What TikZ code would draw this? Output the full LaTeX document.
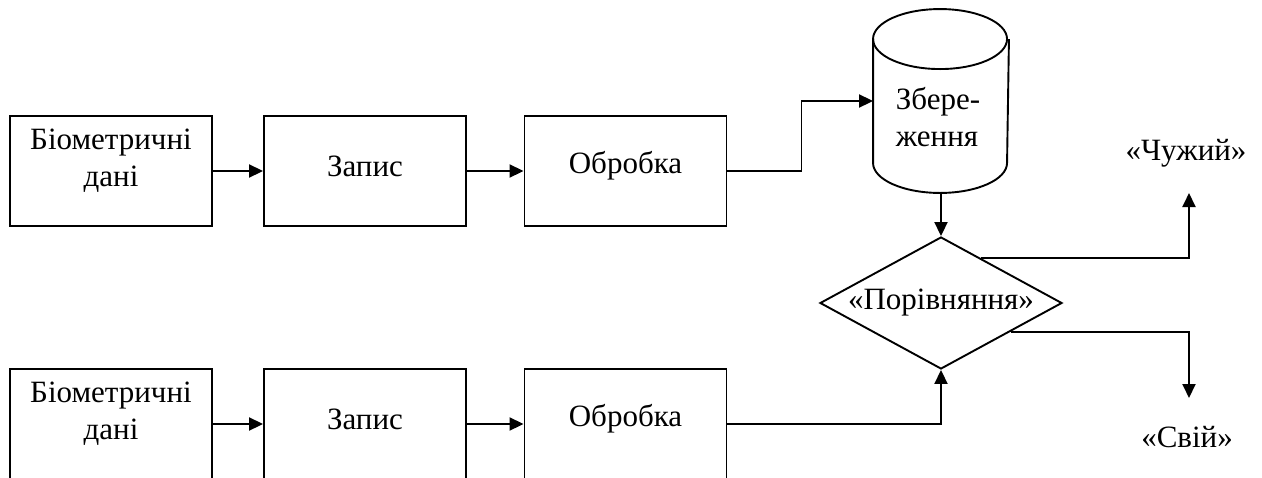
\documentclass[tikz,border=0pt]{standalone}
\usepackage{fontspec}
\setmainfont{Liberation Serif}
\usetikzlibrary{arrows.meta,shapes.geometric,calc}
\begin{document}
\begin{tikzpicture}[x=1pt,y=-1pt,
  line width=1.9pt,
  font=\fontsize{31}{37}\selectfont,
  box/.style={draw, rectangle, minimum width=202pt, minimum height=110pt, inner sep=0pt},
  txt/.style={align=center, inner sep=0pt},
  flow/.style={-{Triangle[length=14pt,width=13pt]}},
  decision/.style={diamond, draw, minimum width=242pt, minimum height=132pt, inner sep=0pt, aspect=1.83},
  rim/.style={x radius=67pt, y radius=30pt}
]
\useasboundingbox (0,0) rectangle (1262,477);

% enrolment row
\node[box] (bioA) at (111,171) {};
\node[txt] (bioAt) at (111,161) {Біометричні\\дані};
\node[box] (recA) at (365,171) {};
\node[txt] (recAt) at (365,166) {Запис};
\node[box] (procA) at (625.5,171) {};
\node[txt] (procAt) at (625.5,166) {Обробка};

% verification row
\node[box] (bioB) at (111,424) {};
\node[txt] (bioBt) at (111,414) {Біометричні\\дані};
\node[box] (recB) at (365,424) {};
\node[txt] (recBt) at (365,419) {Запис};
\node[box] (procB) at (625.5,424) {};
\node[txt] (procBt) at (625.5,419) {Обробка};

% storage cylinder: body with bottom rim, then the full top ellipse
\node[minimum width=134pt, minimum height=182pt, inner sep=0pt] (store) at (941,101) {};
\coordinate (topL) at ($(store.north west)+(0,30)$);
\coordinate (topR) at ($(store.north east)+(0,30)$);
\coordinate (botL) at ($(store.south west)+(0,-30)$);
\draw (topL) -- (botL) arc[start angle=180, end angle=360, rim] -- (topR);
\draw (topL) arc[start angle=180, end angle=-180, rim] -- cycle;
\node[txt, align=left] (storet) at (938,117) {Збере-\\ження};

% comparison
\node[decision] (cmp) at (941,303) {«Порівняння»};

% outcomes
\node[txt] (alien) at (1186,153) {«Чужий»};
\node[txt] (own) at (1187,437) {«Свій»};
\coordinate (alienTip) at (1189,193);
\coordinate (ownTip) at (1189,398);

% connectors
\draw[flow] (bioA) -- (recA);
\draw[flow] (recA) -- (procA);
\draw[flow] (procA.east) -- ++(74,0) |- (store.west);
\draw[flow] (store.south) -- (cmp.north);
\draw[flow] (bioB) -- (recB);
\draw[flow] (recB) -- (procB);
\draw[flow] (procB.east) -| (cmp.south);
\draw[flow] ($(cmp.north)!0.33!(cmp.east)$) -| (alienTip);
\draw[flow] ($(cmp.east)!0.43!(cmp.south)$) -| (ownTip);
\end{tikzpicture}
\end{document}
